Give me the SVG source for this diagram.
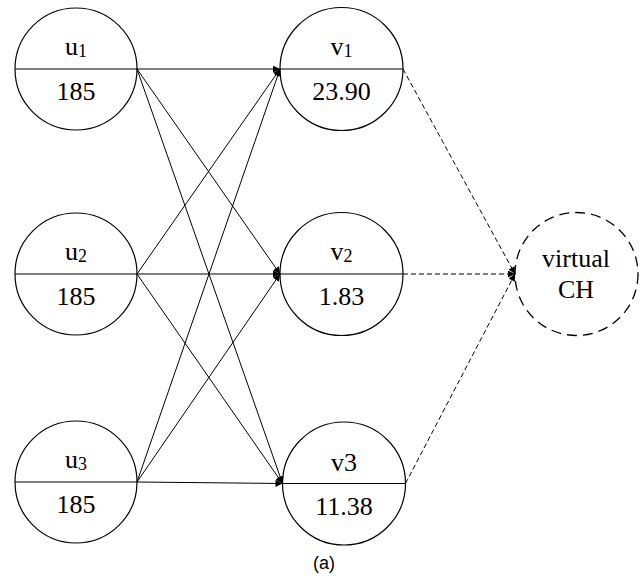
<svg xmlns="http://www.w3.org/2000/svg" width="644" height="578" viewBox="0 0 644 578">
<style>
.n{fill:#fff;stroke:#000;stroke-width:1.2}
.d{stroke:#000;stroke-width:1.2}
.t{font-family:"Liberation Serif","Times New Roman",serif;font-size:26px;fill:#000;text-anchor:middle}
.s{font-size:18px}
.e{stroke:#000;stroke-width:1;fill:none}
.ed{stroke:#000;stroke-width:1;fill:none;stroke-dasharray:5,3}
.cap{font-family:"Liberation Sans",Arial,sans-serif;font-size:18px;fill:#000;text-anchor:middle}
</style>
<defs>
<marker id="ah" viewBox="0 0 10 10" refX="10" refY="5" markerWidth="9" markerHeight="7" markerUnits="userSpaceOnUse" orient="auto">
<path d="M0,0 L10,5 L0,10 z" fill="#000"/>
</marker>
</defs>
<rect width="644" height="578" fill="#fff"/>
<g id="u1"><circle class="n" cx="76" cy="69" r="61"/><line class="d" x1="15" y1="69" x2="137" y2="69"/><text class="t" x="76" y="55">u<tspan class="s" dy="2">1</tspan></text><text class="t" x="76" y="100">185</text></g>
<g id="u2"><circle class="n" cx="76" cy="274" r="61"/><line class="d" x1="15" y1="274" x2="137" y2="274"/><text class="t" x="76" y="260">u<tspan class="s" dy="2">2</tspan></text><text class="t" x="76" y="305">185</text></g>
<g id="u3"><circle class="n" cx="76" cy="482" r="61"/><line class="d" x1="15" y1="482" x2="137" y2="482"/><text class="t" x="76" y="468">u<tspan class="s" dy="2">3</tspan></text><text class="t" x="76" y="513">185</text></g>
<g id="v1"><circle class="n" cx="341.5" cy="69" r="61.5"/><line class="d" x1="280" y1="69" x2="403" y2="69"/><text class="t" x="341.5" y="55">v<tspan class="s" dy="2">1</tspan></text><text class="t" x="341.5" y="100">23.90</text></g>
<g id="v2"><circle class="n" cx="341.5" cy="274" r="61.5"/><line class="d" x1="280" y1="274" x2="403" y2="274"/><text class="t" x="341.5" y="260">v<tspan class="s" dy="2">2</tspan></text><text class="t" x="341.5" y="305">1.83</text></g>
<g id="v3"><circle class="n" cx="344" cy="483.5" r="61.5"/><line class="d" x1="282.5" y1="483.5" x2="405.5" y2="483.5"/><text class="t" x="344" y="471">v3</text><text class="t" x="344" y="515">11.38</text></g>
<g id="vch"><circle cx="576.5" cy="274" r="61.5" fill="#fff" stroke="#000" stroke-width="1.3" stroke-dasharray="10,6"/><text class="t" x="576" y="267">virtual</text><text class="t" x="576" y="298">CH</text></g>
<g id="connectors">
<line class="e" x1="137" y1="69" x2="280" y2="69" marker-end="url(#ah)"/>
<line class="e" x1="137" y1="69" x2="280" y2="274" marker-end="url(#ah)"/>
<line class="e" x1="137" y1="69" x2="282.5" y2="483.5" marker-end="url(#ah)"/>
<line class="e" x1="137" y1="274" x2="280" y2="69" marker-end="url(#ah)"/>
<line class="e" x1="137" y1="274" x2="280" y2="274" marker-end="url(#ah)"/>
<line class="e" x1="137" y1="274" x2="282.5" y2="483.5" marker-end="url(#ah)"/>
<line class="e" x1="137" y1="482" x2="280" y2="69" marker-end="url(#ah)"/>
<line class="e" x1="137" y1="482" x2="280" y2="274" marker-end="url(#ah)"/>
<line class="e" x1="137" y1="482" x2="282.5" y2="483.5" marker-end="url(#ah)"/>
<line class="ed" x1="403" y1="69" x2="515" y2="274" marker-end="url(#ah)"/>
<line class="ed" x1="403" y1="274" x2="515" y2="274" marker-end="url(#ah)"/>
<line class="ed" x1="405.5" y1="483.5" x2="515" y2="274" marker-end="url(#ah)"/>
</g>
<text class="cap" x="324" y="569">(a)</text>
</svg>
